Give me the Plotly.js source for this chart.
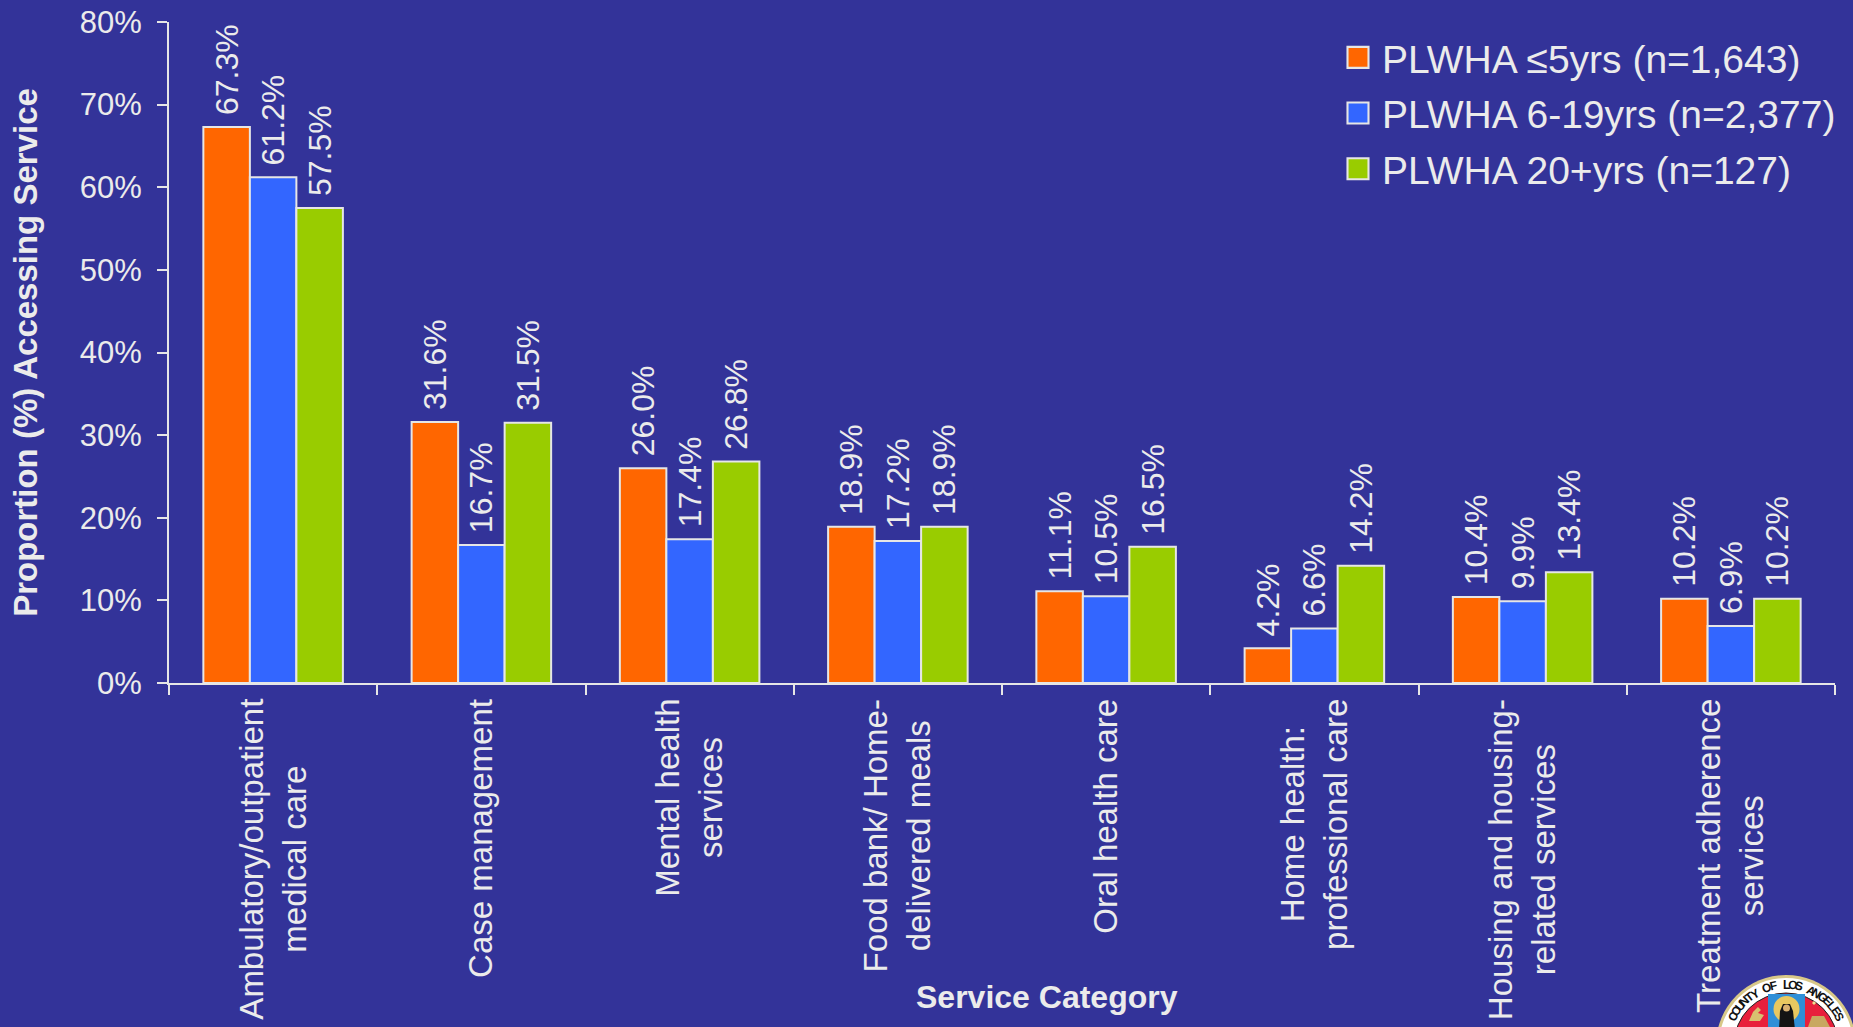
<!DOCTYPE html>
<html><head><meta charset="utf-8">
<script src="https://cdn.plot.ly/plotly-3.0.1.min.js"></script>
<style>html,body{margin:0;padding:0;background:#333399;overflow:hidden}</style>
</head><body><div id="chart" style="width:1853px;height:1027px"></div>
<script>
const categories = ["Ambulatory/outpatient<br>medical care","Case management","Mental health<br>services","Food bank/ Home-<br>delivered meals","Oral health care","Home health:<br>professional care","Housing and housing-<br>related services","Treatment adherence<br>services"];
const seriesNames = ["PLWHA ≤5yrs (n=1,643)","PLWHA 6-19yrs (n=2,377)","PLWHA 20+yrs (n=127)"];
const under5 = [67.3,31.6,26.0,18.9,11.1,4.2,10.4,10.2];
const y6to19 = [61.2,16.7,17.4,17.2,10.5,6.6,9.9,6.9];
const y20plus = [57.5,31.5,26.8,18.9,16.5,14.2,13.4,10.2];
const colors = ["#ff6600","#3366ff","#99cc00"];
const yTicks = [0,10,20,30,40,50,60,70,80];
const textColor = "#ebebeb", font = "'Liberation Sans', Arial, sans-serif";
const W=1853,H=1027,L=169,R=1835,T=22,B=683;
const px = x=>(x-L)/(R-L), py = y=>(B-y)/(B-T);
const traces = [under5,y6to19,y20plus].map((v,i)=>({
  type:"bar",name:seriesNames[i],x:categories,y:v,legendgroup:"g"+i,
  marker:{color:colors[i],line:{color:"#e6e6e6",width:2}},
  text:v.map(n=>"\u00a0"+n.toFixed(1)+"%"),textposition:"outside",textangle:-90,cliponaxis:false,constraintext:"none",
  textfont:{family:font,size:32,color:textColor},hoverinfo:"skip"
}));
const annotations = categories.map(c=>({
  x:c,xref:"x",yref:"paper",y:py(698),yanchor:"top",xanchor:"center",textangle:-90,align:"center",xshift:-1,
  text:c,showarrow:false,font:{family:font,size:33,color:textColor},borderpad:0
}));
annotations.push({xref:"paper",yref:"paper",x:px(1047),y:py(997),xanchor:"center",yanchor:"middle",showarrow:false,
  text:"<b>Service Category</b>",font:{family:font,size:32,color:textColor}});
// seal
const sc={x:1786,y:1045};
const P=(d)=>d.replace(/(-?[\d.]+),(-?[\d.]+)/g,(m,a,b)=>px(+a).toFixed(5)+","+py(+b).toFixed(5));
const poly=(d,fill)=>({type:"path",xref:"paper",yref:"paper",path:P(d),fillcolor:fill,line:{width:0}});
const circle=(cx,cy,r,fill,line,lw)=>({type:"circle",xref:"paper",yref:"paper",x0:px(cx-r),x1:px(cx+r),y0:py(cy+r),y1:py(cy-r),fillcolor:fill,line:{color:line||fill,width:lw||0}});
const shapes=[
  circle(sc.x,sc.y,70,"#d8c888"),circle(sc.x,sc.y,67,"#ffffff"),circle(sc.x,sc.y,52,"#e8203c","#222222",1),
  poly("M1768,994 L1805,994 L1805,1030 L1768,1030 Z","#2f8fd8"),
  circle(1786.5,1009,13,"#e8c860"),
  poly("M1779,1030 L1780,1011 L1783,1004 L1790,1004 L1793,1011 L1795,1030 Z","#141414"),
  circle(1786.5,1008,3.5,"#d8b070"),
  poly("M1749,1021 L1753,1012 L1758,1007 L1761,1010 L1758,1013 L1764,1015 L1760,1021 Z","#d8c070"),
  poly("M1808,1027 L1812,1016 L1824,1016 L1830,1027 Z","#c8a860"),
  poly("M1814,1001 L1816,1003 L1814,1005 L1812,1003 Z","#f0e090")
];
const sealText="COUNTY OF LOS ANGELES".split("");
sealText.forEach((ch,i)=>{
  const deg=-62+i*(124/(sealText.length-1)), a=deg*Math.PI/180;
  annotations.push({xref:"paper",yref:"paper",x:px(sc.x+60*Math.sin(a)),y:py(sc.y-60*Math.cos(a)),text:"<b>"+ch+"</b>",textangle:deg,showarrow:false,font:{family:font,size:12,color:"#111111"},xanchor:"center",yanchor:"middle"});
});
const layout = {
  width:W,height:H,autosize:false,paper_bgcolor:"#333399",plot_bgcolor:"#333399",
  margin:{l:L,r:W-R,t:T,b:H-B,autoexpand:false},
  barmode:"group",bargap:0.33,bargroupgap:0,showlegend:true,
  font:{family:font,color:textColor},
  xaxis:{type:"category",tickson:"boundaries",ticks:"outside",ticklen:10,tickwidth:2,tickcolor:"#e6e6e6",
    showticklabels:false,showline:true,linecolor:"#e6e6e6",linewidth:2,showgrid:false,zeroline:false},
  yaxis:{range:[0,80],tickvals:yTicks,ticktext:yTicks.map(t=>t+"%"),ticks:"outside",ticklen:10,tickwidth:2,tickcolor:"#e6e6e6",
    showline:true,linecolor:"#e6e6e6",linewidth:2,showgrid:false,zeroline:false,automargin:true,ticklabelstandoff:9,
    tickfont:{family:font,size:31,color:textColor},
    title:{text:"<b>Proportion (%) Accessing Service</b>",font:{family:font,size:33,color:textColor},standoff:32}},
  legend:{x:px(1342),y:py(25.5),xanchor:"left",yanchor:"top",bgcolor:"rgba(0,0,0,0)",traceorder:"grouped",tracegroupgap:2,
    font:{family:font,size:39,color:textColor},itemclick:false,itemdoubleclick:false},
  shapes,annotations
};
Plotly.newPlot("chart",traces,layout,{displayModeBar:false,staticPlot:true}).then(gd=>{
  gd.querySelectorAll(".legendpoints path").forEach(p=>{p.setAttribute("transform","translate(16,0) scale(1.75)");p.style.strokeWidth="1.2px";});
});
</script></body></html>
